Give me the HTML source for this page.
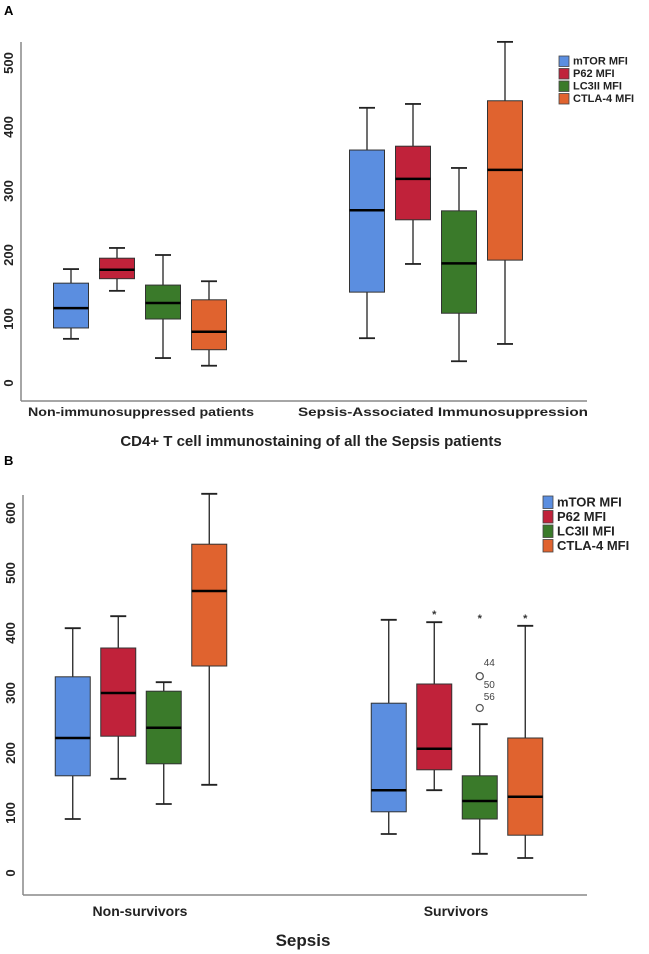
<!DOCTYPE html>
<html><head><meta charset="utf-8">
<style>
body{margin:0;background:#fff;}
svg{display:block;font-family:"Liberation Sans","DejaVu Sans",sans-serif;}
</style></head>
<body>
<svg id="chart" width="649" height="954" viewBox="0 0 649 954">
<text x="4" y="15" font-size="13" font-weight="bold">A</text>
<text x="4" y="465" font-size="13" font-weight="bold">B</text>
</svg>
<script>
const series = ["mTOR MFI","P62 MFI","LC3II MFI","CTLA-4 MFI"];
const colors = ["#5B8EE0","#C0223A","#3A7A2A","#E0632F"];
const ticksA = [0,100,200,300,400,500];
const ticksB = [0,100,200,300,400,500,600];
const groupsA = ["Non-immunosuppressed patients","Sepsis-Associated Immunosuppression"];
const groupsB = ["Non-survivors","Survivors"];
// [whiskerLow, q1, median, q3, whiskerHigh]
const statsA = [
 [[69,86,117,156,178],[144,163,177,195,211],[39,100,125,153,200],[27,52,80,130,159]],
 [[70,142,270,364,430],[186,255,319,370,436],[34,109,187,269,336],[61,192,333,441,533]]
];
const statsB = [
 [[90,162,225,327,408],[157,228,300,375,428],[115,182,242,303,318],[147,345,470,548,632]],
 [[65,102,138,283,422],[138,172,207,315,418],[32,90,120,162,248],[25,63,127,225,412]]
];
const starsB = [[null,null,null,null],[null,432,425,425]];
const outliersB = [{g:1,s:2,v:328,label:"44"},{g:1,s:2,v:328,label:"50"},{g:1,s:2,v:275,label:"56"}];

const svg = document.getElementById('chart');
const NS = "http://www.w3.org/2000/svg";
function mk(tag, attrs, parent){const e=document.createElementNS(NS,tag);for(const k in attrs)e.setAttribute(k,attrs[k]);(parent||svg).appendChild(e);return e;}

function panel(cfg){
  const g = mk('g',{});
  
  
  const y = v => cfg.y0 - v*cfg.k;
  const ax = mk('line',{x1:cfg.ax,y1:cfg.top,x2:cfg.ax,y2:cfg.bottom,stroke:'#888','stroke-width':1.5},g);
  
  
  const bx = mk('line',{x1:cfg.ax,y1:cfg.bottom,x2:cfg.right,y2:cfg.bottom,stroke:'#888','stroke-width':1.5},g);
  
  
  cfg.ticks.forEach(t=>{
    const tx = mk('text',{x:0,y:0,'font-size':13,'font-weight':'bold','text-anchor':'middle',fill:'#222',transform:`translate(${cfg.ax-8},${y(t)}) rotate(-90)`},g);
    tx.textContent = t;
    
    
  });
  cfg.groups.forEach((gn,gi)=>{
    const gc = cfg.gcenters[gi];
    const at = {x:cfg.glabelX[gi],y:cfg.glabelY,'font-size':cfg.gfs,'font-weight':'bold','text-anchor':'middle',fill:'#222'};
    if(cfg.glabelW){at.textLength=cfg.glabelW[gi];at.lengthAdjust='spacingAndGlyphs';}
    const lab = mk('text',at,g);
    lab.textContent = gn;
    
    
    cfg.stats[gi].forEach((s,si)=>{
      const cx = gc + (si-1.5)*cfg.sp;
      const w = 35;
      const bg = mk('g',{},g);
      
      
      mk('line',{x1:cx,y1:y(s[0]),x2:cx,y2:y(s[1]),stroke:'#222','stroke-width':1.3},bg);
      mk('line',{x1:cx,y1:y(s[3]),x2:cx,y2:y(s[4]),stroke:'#222','stroke-width':1.3},bg);
      mk('line',{x1:cx-8,y1:y(s[0]),x2:cx+8,y2:y(s[0]),stroke:'#222','stroke-width':1.8},bg);
      mk('line',{x1:cx-8,y1:y(s[4]),x2:cx+8,y2:y(s[4]),stroke:'#222','stroke-width':1.8},bg);
      mk('rect',{x:cx-w/2,y:y(s[3]),width:w,height:y(s[1])-y(s[3]),fill:colors[si],stroke:'#333','stroke-width':1},bg);
      mk('line',{x1:cx-w/2,y1:y(s[2]),x2:cx+w/2,y2:y(s[2]),stroke:'#000','stroke-width':2.5},bg);
      if(cfg.stars && cfg.stars[gi][si]!=null){
        const st = mk('text',{x:cx,y:y(cfg.stars[gi][si])+4,'font-size':11,'font-weight':'bold','text-anchor':'middle',fill:'#333'},bg);
        st.textContent='*';
        
        
      }
    });
  });
  (cfg.outliers||[]).forEach((o,i)=>{
    const cx = cfg.gcenters[o.g] + (o.s-1.5)*cfg.sp;
    const c = mk('circle',{cx:cx,cy:y(o.v),r:3.5,fill:'#fff',stroke:'#555','stroke-width':1.2},g);
    
    
    const same = cfg.outliers.filter(p=>p.v===o.v);
    const idx = same.indexOf(o);
    const ly = y(o.v) + (same.length>1 ? (idx===0?-10:12) : -8);
    const t = mk('text',{x:cx+4,y:ly,'font-size':10,fill:'#444'},g);
    t.textContent=o.label;
    
    
  });
  const xt = mk('text',{x:cfg.titleX,y:cfg.titleY,'font-size':cfg.tfs,'font-weight':'bold','text-anchor':'middle',fill:'#222'},g);
  xt.textContent = cfg.title;
  
  
  const lg = mk('g',{},g);
  
  
  series.forEach((sn,i)=>{
    const ey = cfg.legY + i*cfg.legSp;
    const eg = mk('g',{},lg);
    
    
    mk('rect',{x:cfg.legX,y:ey,width:cfg.legBox,height:cfg.legSp-2,fill:colors[i],stroke:'#444','stroke-width':0.8},eg);
    const t = mk('text',{x:cfg.legX+cfg.legBox+4,y:ey+cfg.legSp-4,'font-size':cfg.legFs,'font-weight':'bold',fill:'#222'},eg);
    t.textContent=sn;
  });
}

panel({name:'panel-a',stats:statsA,groups:groupsA,ticks:ticksA,y0:383,k:0.64,ax:21,top:42,bottom:401,right:587,
  gcenters:[140,436],sp:46,glabelX:[141,443],glabelW:[226,290],glabelY:416,gfs:12,
  title:'CD4+ T cell immunostaining of all the Sepsis patients',titleX:311,titleY:446,tfs:15,
  legX:559,legY:56,legSp:12.5,legBox:10,legFs:11});
panel({name:'panel-b',stats:statsB,groups:groupsB,ticks:ticksB,y0:873,k:0.6,ax:23,top:495,bottom:895,right:587,
  gcenters:[141,457],sp:45.5,glabelX:[140,456],glabelY:916,gfs:14,stars:starsB,outliers:outliersB,
  title:'Sepsis',titleX:303,titleY:946,tfs:17,
  legX:543,legY:496,legSp:14.5,legBox:10,legFs:13});
</script>
</body></html>
